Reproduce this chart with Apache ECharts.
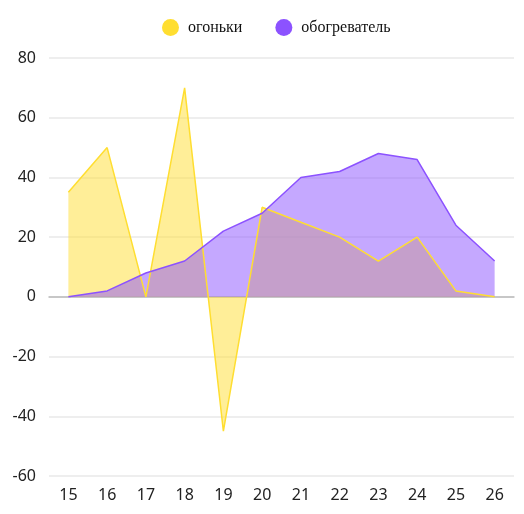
<!DOCTYPE html>
<html>
<head>
<meta charset="utf-8">
<script src="https://cdn.jsdelivr.net/npm/echarts@6/dist/echarts.min.js"></script>
<style>
  html, body { margin: 0; padding: 0; background: #fff; }
  #chart { width: 524px; height: 514px; }
</style>
</head>
<body>
<div id="chart"></div>
<script>
const categories = ['15', '16', '17', '18', '19', '20', '21', '22', '23', '24', '25', '26'];
const lightsValues = [35, 50, 0, 70, -45, 30, 25, 20, 12, 20, 2, 0];
const heaterValues = [0, 2, 8, 12, 22, 28, 40, 42, 48, 46, 24, 12];
const seriesNames = ['огоньки', 'обогреватель'];

const YELLOW = '#FFDE31';
const PURPLE = '#8C52FF';

// areas go under both lines, so each series is split into an area and a line
function buildArea(name, data, color, z) {
    return {
        name,
        type: 'line',
        data,
        z,
        symbol: 'none',
        lineStyle: { width: 0 },
        itemStyle: { color },
        areaStyle: { color, opacity: 0.5 }
    };
}

function buildLine(name, data, color, z) {
    return {
        name,
        type: 'line',
        data,
        z,
        symbol: 'none',
        lineStyle: { color, width: 1.5 },
        itemStyle: { color }
    };
}

const chart = echarts.init(document.getElementById('chart'));
chart.setOption({
    animation: false,
    legend: {
        top: 14,
        left: 157,
        icon: 'circle',
        itemWidth: 17,
        itemHeight: 17,
        itemGap: 33,
        textStyle: {
            fontFamily: 'Liberation Serif',
            fontSize: 16,
            color: '#111',
            padding: [0, 0, 0, 4]
        },
        data: seriesNames
    },
    grid: { left: 49, right: 10, top: 58, bottom: 38, containLabel: false },
    xAxis: {
        type: 'category',
        data: categories,
        boundaryGap: true,
        axisLine: { lineStyle: { color: '#bbb', width: 1.5 } },
        axisTick: { show: false },
        axisLabel: { fontFamily: 'Noto Sans', fontSize: 16, color: '#222', margin: 11 }
    },
    yAxis: {
        type: 'value',
        min: -60,
        max: 80,
        interval: 20,
        axisLine: { show: false },
        axisTick: { show: false },
        splitLine: { lineStyle: { color: '#e8e8e8', width: 1.5 } },
        axisLabel: { fontFamily: 'Noto Sans', fontSize: 16, color: '#222', margin: 13 }
    },
    series: [
        buildArea(seriesNames[0], lightsValues, YELLOW, 1),
        buildArea(seriesNames[1], heaterValues, PURPLE, 2),
        buildLine(seriesNames[0], lightsValues, YELLOW, 3),
        buildLine(seriesNames[1], heaterValues, PURPLE, 4)
    ]
});
</script>
</body>
</html>
